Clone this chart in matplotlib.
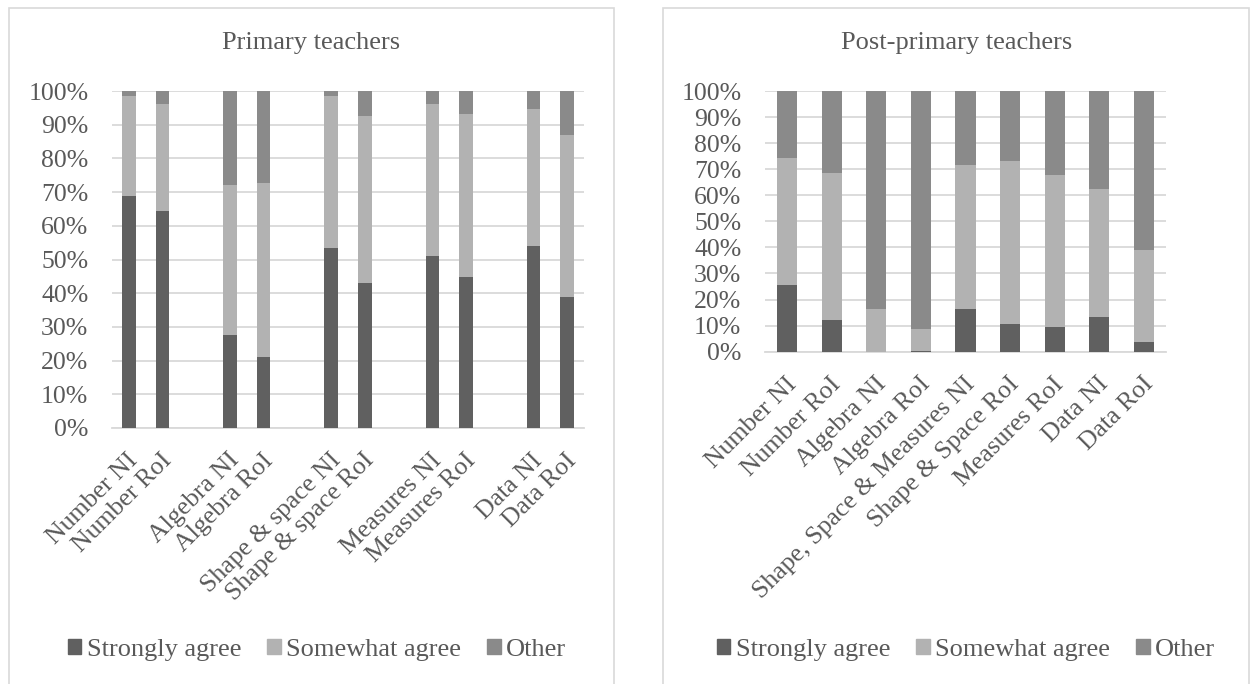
import numpy as np
import matplotlib.pyplot as plt
import matplotlib.transforms as mtransforms
from matplotlib.patches import Rectangle, Patch
from matplotlib.ticker import PercentFormatter

plt.rcParams["font.family"] = ["Liberation Serif", "DejaVu Serif"]

TEXT = "#595959"
GRID = "#d9d9d9"
SERIES = ["Strongly agree", "Somewhat agree", "Other"]
SERIES_COLORS = ["#606060", "#b2b2b2", "#8a8a8a"]

# Primary teachers (percent of respondents)
primary_labels = ["Number NI", "Number RoI", "Algebra NI", "Algebra RoI",
                  "Shape & space NI", "Shape & space RoI",
                  "Measures NI", "Measures RoI", "Data NI", "Data RoI"]
primary_slots = [0, 1, 3, 4, 6, 7, 9, 10, 12, 13]
primary_strong = [68.8, 64.4, 27.7, 21.2, 53.5, 43.1, 51.1, 44.9, 54.1, 38.8]
primary_somewhat = [29.7, 31.8, 44.4, 51.5, 45.0, 49.5, 45.1, 48.4, 40.5, 48.1]
primary_other = [1.5, 3.8, 27.9, 27.3, 1.5, 7.4, 3.8, 6.7, 5.4, 13.1]

# Post-primary teachers
post_labels = ["Number NI", "Number RoI", "Algebra NI", "Algebra RoI",
               "Shape, Space & Measures NI", "Shape & Space RoI",
               "Measures RoI", "Data NI", "Data RoI"]
post_strong = [25.6, 12.3, 0.0, 0.4, 16.3, 10.5, 9.4, 13.4, 3.7]
post_somewhat = [48.7, 56.1, 16.5, 8.4, 55.3, 62.6, 58.3, 48.9, 35.4]
post_other = [25.7, 31.6, 83.5, 91.2, 28.4, 26.9, 32.3, 37.7, 60.9]

W, H = 1257, 684
fig = plt.figure(figsize=(W / 100, H / 100), dpi=100)


def fx(px):
    return px / W


def fy(py):
    return 1 - py / H


# chart area frames
for x0, x1 in [(9, 614), (663, 1249)]:
    fig.patches.append(Rectangle((fx(x0), fy(690)), fx(x1 - x0), fy(8) - fy(690),
                                 transform=fig.transFigure, fill=False,
                                 edgecolor=GRID, lw=1.2))

# nudge rotated category labels right/down a little
label_shift = mtransforms.ScaledTranslation(6 / 100, -11 / 100, fig.dpi_scale_trans)


def stacked(ax, xpos, labels, series, width, xlim, title, title_x, legend_x):
    bottom = np.zeros(len(xpos))
    for vals, color in zip(series, SERIES_COLORS):
        ax.bar(xpos, vals, width=width, bottom=bottom, color=color, zorder=3)
        bottom += np.array(vals)
    ax.set_xlim(*xlim)
    ax.set_ylim(0, 100)
    ax.set_yticks(np.arange(0, 101, 10))
    ax.yaxis.set_major_formatter(PercentFormatter(decimals=0))
    ax.grid(axis="y", color=GRID, lw=1.3, zorder=0)
    for s in ["top", "right", "left"]:
        ax.spines[s].set_visible(False)
    ax.spines["bottom"].set_color(GRID)
    ax.spines["bottom"].set_linewidth(1.3)
    ax.tick_params(length=0, labelsize=18.5, colors=TEXT)
    ax.tick_params(axis="y", pad=17)
    ax.set_xticks(xpos)
    ax.set_xticklabels(labels, rotation=45, ha="right", va="center",
                       rotation_mode="anchor", fontsize=18.5)
    ax.tick_params(axis="x", pad=13)
    for lbl in ax.get_xticklabels():
        lbl.set_transform(lbl.get_transform() + label_shift)
    fig.text(title_x, fy(43), title, ha="center", va="center",
             fontsize=19, color=TEXT)
    handles = [Patch(color=c, label=l) for c, l in zip(SERIES_COLORS, SERIES)]
    ax.legend(handles=handles, loc="center", ncol=3, frameon=False,
              bbox_to_anchor=(legend_x, fy(650)), bbox_transform=fig.transFigure,
              fontsize=19, labelcolor=TEXT, handlelength=0.5, handleheight=0.5,
              handletextpad=0.2, columnspacing=1.0)


ax1 = fig.add_axes([fx(112), fy(428), fx(584 - 112), fy(91) - fy(428)])
stacked(ax1, primary_slots, primary_labels,
        [primary_strong, primary_somewhat, primary_other],
        0.4, (-0.5, 13.5), "Primary teachers", fx(311), fx(317))

ax2 = fig.add_axes([fx(765), fy(351.7), fx(1166 - 765), fy(91) - fy(351.7)])
stacked(ax2, np.arange(len(post_labels)), post_labels,
        [post_strong, post_somewhat, post_other],
        0.45, (-0.5, 8.5), "Post-primary teachers", fx(957), fx(966))

fig.savefig("out.png", dpi=100)
